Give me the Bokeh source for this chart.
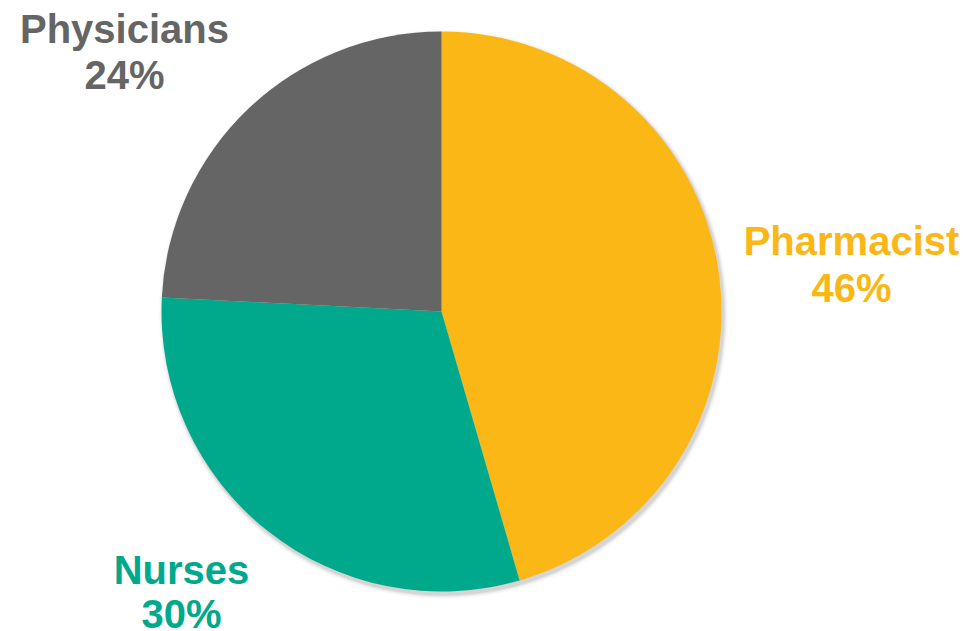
import math
from bokeh.plotting import figure
from bokeh.models import Range1d, ColumnDataSource
from bokeh.core.properties import value
from bokeh.embed import file_html
from bokeh.resources import INLINE

categories = ["Pharmacist", "Nurses", "Physicians"]
shares = [45.5, 30.3, 24.2]          # slice sizes as drawn
colors = ["#FBB715", "#00A98B", "#656565"]
pct_labels = ["46%", "30%", "24%"]

W, H = 967, 631
p = figure(width=W, height=H, output_backend="svg", toolbar_location=None,
           x_range=Range1d(0, W), y_range=Range1d(0, H),
           min_border=0, outline_line_color=None)
p.axis.visible = False
p.grid.visible = False
p.background_fill_color = "white"
p.border_fill_color = "white"

cx, cy, r = 441, H - 311, 280

# soft shadow
for i, a in enumerate([0.06, 0.045, 0.03, 0.02, 0.01]):
    p.circle(x=[cx + 2], y=[cy - 3], radius=r + 1 + i, fill_color="black",
             fill_alpha=a, line_color=None)

total = sum(shares)
starts, ends = [], []
ang = math.pi / 2
for s in shares:
    starts.append(ang)
    ang -= 2 * math.pi * s / total
    ends.append(ang)

src = ColumnDataSource(dict(start=starts, end=ends, color=colors))
p.wedge(x=cx, y=cy, radius=r, start_angle="start", end_angle="end",
        direction="clock", fill_color="color", line_color=None, source=src)

# labels (layout positions in picture pixels from top)
label_x = [851, 181, 124]
label_y1 = [240, 569, 28]
label_y2 = [287, 613, 74]
for name, pct, c, lx, y1, y2 in zip(categories, pct_labels, colors, label_x, label_y1, label_y2):
    p.text(x=[lx, lx], y=[H - y1, H - y2], text=[name, pct],
           text_font=value("Liberation Sans"), text_font_style="bold",
           text_font_size="40px", text_color=c, text_align="center",
           text_baseline="alphabetic")

open("out.html", "w").write(file_html(p, INLINE))
